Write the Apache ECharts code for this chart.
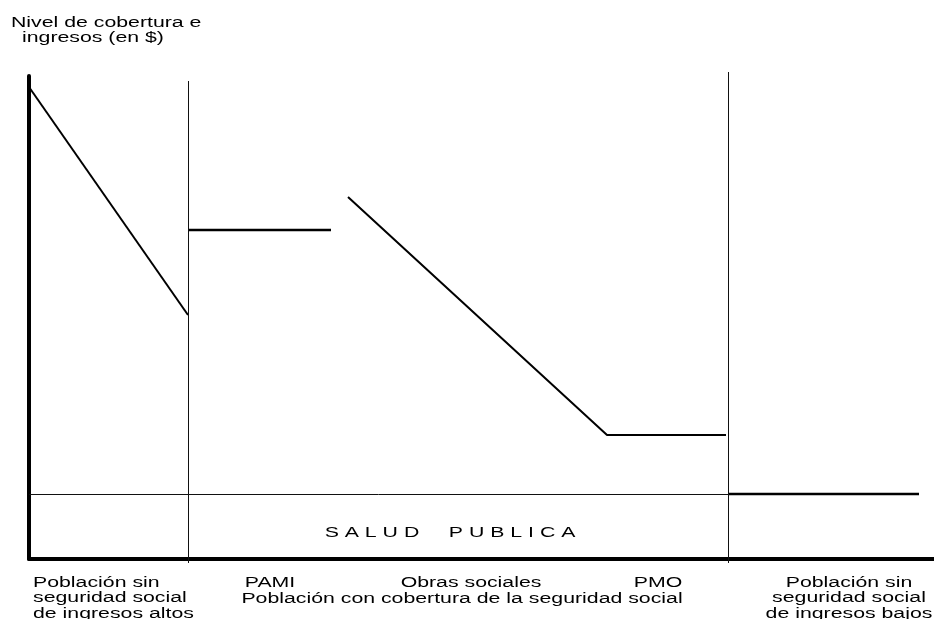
<!DOCTYPE html>
<html>
<head>
<meta charset="utf-8">
<script src="https://cdn.jsdelivr.net/npm/echarts@6/dist/echarts.min.js"></script>
<style>
  html, body { margin: 0; padding: 0; background: #fff; }
  #chart { width: 934px; height: 619px; }
</style>
</head>
<body>
<div id="chart"></div>
<script>
// schematic coordinates (x: position along population, y: coverage/income level)
const altosX = [0, 159];
const altosY = [472, 244];
const pamiX = [159, 302];
const pamiY = [329, 329];
const obrasX = [319, 578, 697];
const obrasY = [362, 124, 124];
const publicaX = [0, 699];
const publicaY = [64.5, 64.5];
const bajosX = [699, 890];
const bajosY = [65, 65];
const dividerX = [159.5, 699.5];
const dividerTop = [478, 487];

const titleLines = ['Nivel de cobertura e', 'ingresos (en $)'];
const publicaLabel = 'S A L U D     P U B L I C A';
const groupLabels = [
  { text: 'Población sin\nseguridad social\nde ingresos altos', x: 33, y: 575, align: 'left' },
  { text: 'PAMI', x: 270, y: 575, align: 'center' },
  { text: 'Obras sociales', x: 471, y: 575, align: 'center' },
  { text: 'PMO', x: 658, y: 575, align: 'center' },
  { text: 'Población con cobertura de la seguridad social', x: 462, y: 591, align: 'center' },
  { text: 'Población sin\nseguridad social\nde ingresos bajos', x: 849, y: 575, align: 'center' }
];

const pts = (xs, ys) => xs.map((x, i) => [x, ys[i]]);

const FONT = '14px "Liberation Sans", Arial, sans-serif';
const STRETCH = 1.52;

function seg(data, width, color) {
  return {
    type: 'line',
    data: data,
    showSymbol: false,
    silent: true,
    clip: false,
    lineStyle: { width: width, color: color },
    z: 3
  };
}

const series = [
  seg(pts(altosX, altosY), 2, '#000'),
  seg(pts(pamiX, pamiY), 2.5, '#000'),
  seg(pts(obrasX, obrasY), 2, '#000'),
  seg(pts(publicaX, publicaY), 1, '#111'),
  seg(pts(bajosX, bajosY), 2.5, '#000')
];
dividerX.forEach((x, i) => {
  series.push(seg([[x, dividerTop[i]], [x, -4]], 1, '#111'));
});

function label(text, x, y, align) {
  return {
    type: 'text', x: x, y: y, scaleX: STRETCH,
    style: { text: text, font: FONT, fill: '#000', align: align, lineHeight: 15.5 }
  };
}

const chart = echarts.init(document.getElementById('chart'));
chart.setOption({
  animation: false,
  backgroundColor: '#fff',
  grid: { left: 29, right: 0, top: 76, bottom: 60 },
  xAxis: {
    type: 'value', min: 0, max: 905,
    axisLine: { show: true, lineStyle: { color: '#000', width: 4 } },
    axisTick: { show: false }, axisLabel: { show: false }, splitLine: { show: false }
  },
  yAxis: {
    type: 'value', min: 0, max: 483,
    axisLine: { show: true, lineStyle: { color: '#000', width: 4 } },
    axisTick: { show: false }, axisLabel: { show: false }, splitLine: { show: false }
  },
  series: series,
  graphic: [
    label(titleLines[0], 11, 15, 'left'),
    label(titleLines[1], 22, 30, 'left'),
    {
      type: 'text', x: 450, y: 533, scaleX: STRETCH,
      style: { text: publicaLabel, font: FONT, fill: '#000', align: 'center', verticalAlign: 'middle' }
    },
    ...groupLabels.map(l => label(l.text, l.x, l.y, l.align))
  ]
});
window.addEventListener('resize', function () { chart.resize(); });
</script>
</body>
</html>
